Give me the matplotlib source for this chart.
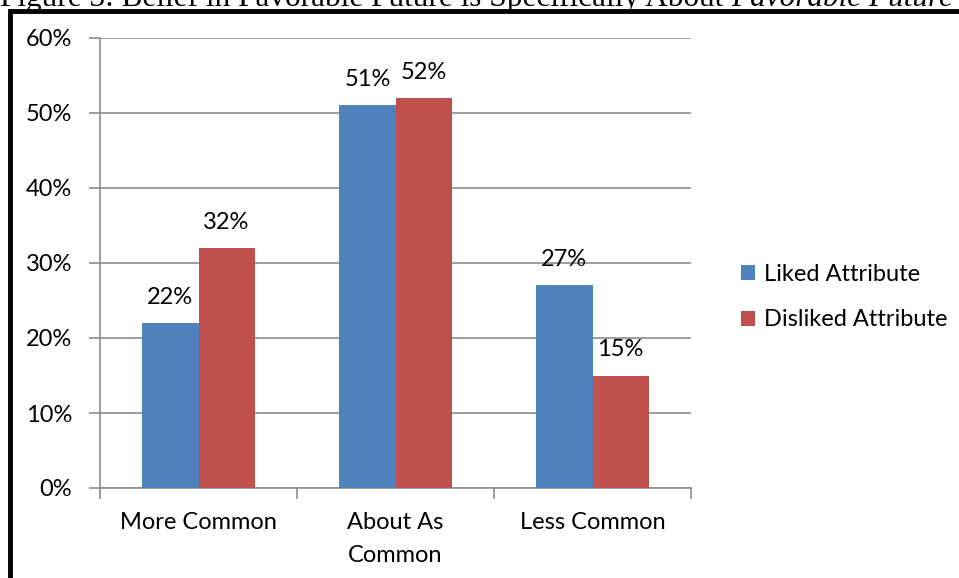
import matplotlib
matplotlib.use("Agg")
import matplotlib.pyplot as plt
from matplotlib.patches import Rectangle
import numpy as np

categories = ["More Common", "About As\nCommon", "Less Common"]
liked = [22, 51, 27]
disliked = [32, 52, 15]
series_names = ["Liked Attribute", "Disliked Attribute"]
yticks = [0, 10, 20, 30, 40, 50, 60]

W, H = 959, 578
fig = plt.figure(figsize=(W / 100, H / 100), dpi=100)
plt.rcParams['font.family'] = ['Lato', 'DejaVu Sans']
FS = 17

# Outer black border (frame of the chart object)
fig.patches.append(Rectangle((10 / W, -0.05), 1.2, (H - 11) / H + 0.05,
                             transform=fig.transFigure, fill=False,
                             edgecolor='black', linewidth=3.5, zorder=10))

# Clipped caption at the very top
t1 = fig.text(0 / W, 1 - 6 / H, "Figure 3: Belief in Favorable Future is Specifically About ",
              family='Liberation Serif', fontsize=22.5, va='baseline', ha='left')
fig.canvas.draw()
bb = t1.get_window_extent()
fig.text(bb.x1 / W, 1 - 6 / H, "Favorable Future",
         family='Liberation Serif', fontsize=22.5, style='italic',
         va='baseline', ha='left')

ax = fig.add_axes([100 / W, (H - 488) / H, 591 / W, 450 / H])
x = np.arange(len(categories))
bw = 0.285
c_blue = "#4F81BD"
c_red = "#C0504D"
b1 = ax.bar(x - bw / 2, liked, bw, color=c_blue, label=series_names[0], zorder=3)
b2 = ax.bar(x + bw / 2, disliked, bw, color=c_red, label=series_names[1], zorder=3)

for bars, vals in ((b1, liked), (b2, disliked)):
    for b, v in zip(bars, vals):
        ax.annotate(f"{v}%", (b.get_x() + b.get_width() / 2, v),
                    xytext=(0, 11), textcoords='offset points',
                    ha='center', va='bottom', fontsize=FS)

ax.set_xlim(-0.5, 2.5)
ax.set_ylim(0, 60)
ax.set_yticks(yticks)
ax.set_yticklabels([f"{v}%" for v in yticks], fontsize=FS)
ax.yaxis.grid(True, color='#8c8c8c', linewidth=1.2, zorder=0)
ax.set_axisbelow(True)

ax.set_xticks([-0.5, 0.5, 1.5, 2.5])
ax.set_xticklabels([])
ax.set_xticks(x, minor=True)
ax.set_xticklabels(categories, minor=True, fontsize=FS, linespacing=1.7)
ax.tick_params(axis='x', which='minor', length=0, pad=17)
ax.tick_params(axis='x', which='major', length=8, color='#8c8c8c', width=1.2)
ax.tick_params(axis='y', length=8, color='#8c8c8c', width=1.2, pad=12)

for s in ('top', 'right'):
    ax.spines[s].set_visible(False)
for s in ('left', 'bottom'):
    ax.spines[s].set_color('#8c8c8c')
    ax.spines[s].set_linewidth(1.2)

leg = fig.legend(handles=[b1, b2], loc='center left',
                 bbox_to_anchor=(720 / W, 1 - 297 / H), frameon=False,
                 fontsize=FS, handlelength=0.6, handleheight=0.6,
                 handletextpad=0.35, labelspacing=1.05)

fig.savefig("out.png", dpi=100)
